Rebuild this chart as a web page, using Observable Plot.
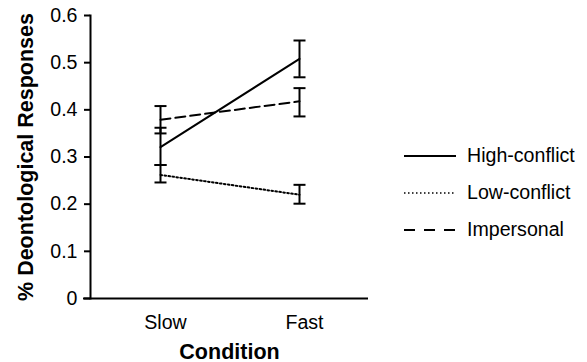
<!DOCTYPE html>
<html>
<head>
<meta charset="utf-8">
<script src="https://cdn.jsdelivr.net/npm/d3@7"></script>
<script src="https://cdn.jsdelivr.net/npm/@observablehq/plot@0.6"></script>
<style>
  html, body { margin: 0; padding: 0; background: #fff; }
  #wrap { position: relative; width: 587px; height: 362px; font-family: "Liberation Sans", Arial, sans-serif; }
  #wrap svg text { font-family: "Liberation Sans", Arial, sans-serif; }
  [aria-label="x-axis label"] text, [aria-label="y-axis label"] text { font-weight: bold; font-size: 21.5px; }
  #legend { position: absolute; left: 404px; top: 137px; }
  .item { display: flex; align-items: center; height: 37px; }
  .item span { margin-left: 11px; font-size: 19.6px; color: #000; }
</style>
</head>
<body>
<div id="wrap"><div id="legend"></div></div>
<script>
const conditions = ["Slow", "Fast"];
const seriesNames = ["High-conflict", "Low-conflict", "Impersonal"];
const seriesDash = ["none", "1.6,2.4", "10,5"];

const highMean = [0.321, 0.508];
const highLo   = [0.283, 0.469];
const highHi   = [0.362, 0.547];

const lowMean  = [0.262, 0.220];
const lowLo    = [0.246, 0.201];
const lowHi    = [0.283, 0.241];

const impMean  = [0.379, 0.418];
const impLo    = [0.350, 0.386];
const impHi    = [0.408, 0.446];

const yTicks = [0, 0.1, 0.2, 0.3, 0.4, 0.5, 0.6];
const yTickLabels = ["0", "0.1", "0.2", "0.3", "0.4", "0.5", "0.6"];

const means = [highMean, lowMean, impMean];
const los = [highLo, lowLo, impLo];
const his = [highHi, lowHi, impHi];

const rows = [];
seriesNames.forEach((s, i) => conditions.forEach((c, j) => {
  rows.push({series: s, condition: c, mean: means[i][j], lo: los[i][j], hi: his[i][j]});
}));

const cap = {
  draw(ctx, size) {
    const w = Math.sqrt(size / Math.PI);
    ctx.moveTo(-w, 0);
    ctx.lineTo(w, 0);
  }
};

const lineMarks = seriesNames.map((s, i) =>
  Plot.line(rows.filter(d => d.series === s), {
    x: "condition", y: "mean", stroke: "#000", strokeWidth: 2,
    strokeDasharray: seriesDash[i] === "none" ? null : seriesDash[i]
  })
);

const chart = Plot.plot({
  width: 587,
  height: 362,
  marginLeft: 90,
  marginRight: 219,
  marginTop: 15,
  marginBottom: 64,
  style: {fontSize: "19.6px", fontFamily: "Liberation Sans, Arial, sans-serif", color: "#000", background: "#fff"},
  x: {type: "point", domain: conditions, padding: 0.5},
  y: {domain: [0, 0.6]},
  marks: [
    Plot.frame({anchor: "left", stroke: "#000", strokeWidth: 2}),
    Plot.ruleY([0], {stroke: "#000", strokeWidth: 2, insetLeft: -7}),
    Plot.axisY({ticks: yTicks, tickFormat: (d, i) => yTickLabels[i], tickSize: 6, tickPadding: 7, strokeWidth: 2,
      label: "% Deontological Responses", labelAnchor: "center", labelOffset: 73, labelArrow: "none"}),
    Plot.axisX({tickSize: 0, tickPadding: 17, dx: 5, label: "Condition", labelAnchor: "center", labelOffset: 60, labelArrow: "none"}),
    ...lineMarks,
    Plot.ruleX(rows, {x: "condition", y1: "lo", y2: "hi", stroke: "#000", strokeWidth: 2}),
    Plot.dot(rows, {x: "condition", y: "lo", symbol: cap, r: 6, stroke: "#000", strokeWidth: 2, fill: "none"}),
    Plot.dot(rows, {x: "condition", y: "hi", symbol: cap, r: 6, stroke: "#000", strokeWidth: 2, fill: "none"})
  ]
});
document.getElementById("wrap").prepend(chart);

const legend = document.getElementById("legend");
seriesNames.forEach((s, i) => {
  const item = document.createElement("div");
  item.className = "item";
  const ns = "http://www.w3.org/2000/svg";
  const sw = document.createElementNS(ns, "svg");
  sw.setAttribute("width", 52); sw.setAttribute("height", 6);
  const ln = document.createElementNS(ns, "line");
  ln.setAttribute("x1", 0); ln.setAttribute("x2", 52);
  ln.setAttribute("y1", 3); ln.setAttribute("y2", 3);
  ln.setAttribute("stroke", "#000");
  ln.setAttribute("stroke-width", i === 1 ? 1.5 : 2);
  if (seriesDash[i] !== "none") ln.setAttribute("stroke-dasharray", i === 2 ? "11,9" : "1.5,2.5");
  sw.appendChild(ln);
  item.appendChild(sw);
  const t = document.createElement("span");
  t.textContent = s;
  item.appendChild(t);
  legend.appendChild(item);
});
</script>
</body>
</html>
